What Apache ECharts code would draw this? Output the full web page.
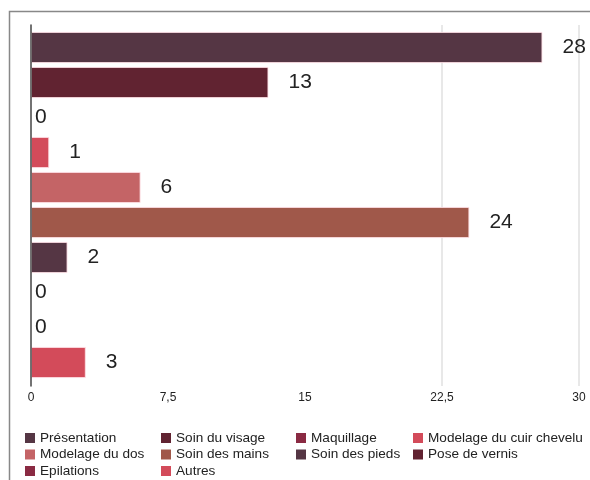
<!DOCTYPE html>
<html>
<head>
<meta charset="utf-8">
<script src="https://cdn.jsdelivr.net/npm/echarts@6/dist/echarts.min.js"></script>
<style>html,body{margin:0;padding:0;background:#fff}#c{width:590px;height:480px}</style>
</head>
<body>
<div id="c"></div>
<script>
const categories = ["Présentation","Soin du visage","Maquillage","Modelage du cuir chevelu","Modelage du dos","Soin des mains","Soin des pieds","Pose de vernis","Epilations","Autres"];
const values = [28, 13, 0, 1, 6, 24, 2, 0, 0, 3];
const colors = ["#553644","#612331","#8a2a43","#d34b5a","#c46466","#a0584a","#553644","#612331","#8a2a43","#d34b5a"];
const xTicks = [0, 7.5, 15, 22.5, 30];
const legendColumns = [
  ["Présentation","Modelage du dos","Epilations"],
  ["Soin du visage","Soin des mains","Autres"],
  ["Maquillage","Soin des pieds"],
  ["Modelage du cuir chevelu","Pose de vernis"]
];
const legendLefts = [25, 161, 296, 413];

const chart = echarts.init(document.getElementById('c'), null, {renderer:'canvas'});
const series = categories.map((name, i) => ({
  name: name,
  type: 'bar',
  stack: 'all',
  xAxisIndex: 0, yAxisIndex: 0,
  barCategoryGap: '11%',
  itemStyle: {color: colors[i], borderColor: 'rgba(255,225,230,0.85)', borderWidth: values[i] === 0 ? 0 : 1},
  label: {show: true, position: 'right', distance: values[i] === 0 ? 4 : 20, fontSize: 21, color: '#222', fontFamily: 'Liberation Sans'},
  data: categories.map((c, j) => j === i ? values[i] : '-')
}));

const labelFmt = v => xTicks.indexOf(v) >= 0 ? String(v).replace('.', ',') : '';

chart.setOption({
  animation: false,
  textStyle: {fontFamily: 'Liberation Sans'},
  color: colors,
  graphic: [{type: 'rect', shape: {x: 9.5, y: 11.5, width: 620, height: 520}, style: {fill: 'none', stroke: '#888', lineWidth: 1.5}, silent: true}],
  grid: [
    {left: 31, top: 30, width: 548, height: 350, containLabel: false},
    {left: 31, top: 25, width: 548, height: 361, containLabel: false}
  ],
  xAxis: [
    {
      gridIndex: 0, type: 'value', min: 0, max: 30, interval: 7.5,
      axisLine: {show: false}, axisTick: {show: false}, splitLine: {show: false},
      axisLabel: {show: false}
    },
    {
      gridIndex: 1, type: 'value', min: 0, max: 30, interval: 7.5,
      axisLine: {show: false}, axisTick: {show: false},
      splitLine: {show: true, lineStyle: {color: ['rgba(0,0,0,0)','rgba(0,0,0,0)','rgba(0,0,0,0)','#e0e0e0','#e0e0e0'], width: 1.5}},
      axisLabel: {color: '#222', fontSize: 12, margin: 6, formatter: labelFmt}
    }
  ],
  yAxis: [
    {
      gridIndex: 0, type: 'category', data: categories, inverse: true,
      axisLine: {show: false}, axisTick: {show: false}, axisLabel: {show: false}
    },
    {
      gridIndex: 1, type: 'category', data: categories, inverse: true, z: 10,
      axisLine: {show: true, lineStyle: {color: '#444', width: 1.5}},
      axisTick: {show: false}, axisLabel: {show: false}
    }
  ],
  legend: legendColumns.map((col, k) => ({
    data: col, orient: 'vertical', left: legendLefts[k], top: 431,
    icon: 'rect', itemWidth: 10, itemHeight: 10, itemGap: 2.5, itemTextGap: 7,
    itemStyle: {borderWidth: 0},
    textStyle: {fontSize: 13.6, color: '#222', fontFamily: 'Liberation Sans'},
    padding: 0
  })),
  series: series
});
</script>
</body>
</html>
